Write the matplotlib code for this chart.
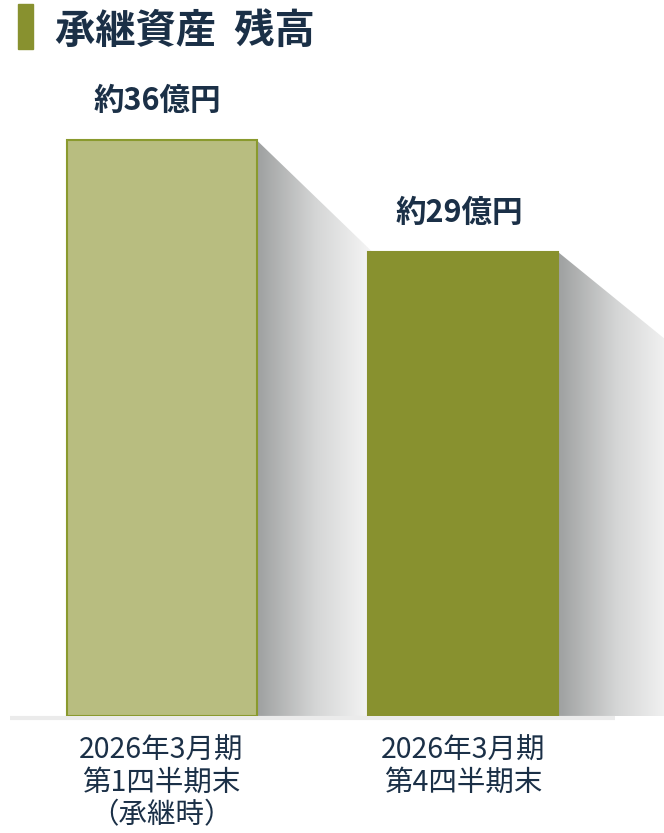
import matplotlib
matplotlib.use("Agg")
import numpy as np
import matplotlib.pyplot as plt
from matplotlib.patches import Rectangle, Polygon
from matplotlib.colors import LinearSegmentedColormap

plt.rcParams['font.family'] = ['Noto Sans CJK JP', 'DejaVu Sans']

# data
categories = ['2026年3月期\n第1四半期末\n（承継時）', '2026年3月期\n第4四半期末']
values = [36, 29]
value_labels = ['約36億円', '約29億円']
title = '承継資産  残高'

bar_colors = ['#b8bd80', '#88912f']
edge_colors = ['#8a9a2e', '#88912f']
shadow_drop = [7.0, 5.9]
navy = '#1b3047'

W, H = 664, 833
fig = plt.figure(figsize=(W / 100, H / 100), dpi=100)
ax = fig.add_axes([0, (H - 716) / H, 1, 716 / H])
unit = 301.5
ax.set_xlim(-161.5 / unit, (W - 161.5) / unit)
ax.set_ylim(0, 716 / 16)
ax.axis('off')

x = np.arange(len(values))
width = 190 / unit
shadow_w = 116 / unit

shade = LinearSegmentedColormap.from_list('shade', ['#9ea0a0', '#d4d5d5', '#f6f6f6'])
grad = np.linspace(0, 1, 256).reshape(1, -1)

for i, v in enumerate(values):
    x0 = x[i] + width / 2
    poly = Polygon([(x0, 0), (x0, v), (x0 + shadow_w, v - shadow_drop[i]), (x0 + shadow_w, 0)],
                   closed=True, facecolor='none', edgecolor='none')
    ax.add_patch(poly)
    im = ax.imshow(grad, cmap=shade, aspect='auto', extent=(x0, x0 + shadow_w, 0, v),
                   zorder=1, interpolation='bicubic')
    im.set_clip_path(poly)

bars = ax.bar(x, values, width=width, color=bar_colors, edgecolor=edge_colors,
              linewidth=1.5, zorder=3)

# baseline
ax.plot([(10 - 161.5) / unit, (615 - 161.5) / unit], [-0.12, -0.12], color='#ebebeb',
        lw=3, solid_capstyle='butt', clip_on=False, zorder=2)

for i, v in enumerate(values):
    ax.annotate(value_labels[i], (x[i], v), xytext=(-3, 28), textcoords='offset points',
                ha='center', va='center', fontsize=22, fontweight='bold', color=navy)

for i, c in enumerate(categories):
    ax.annotate(c, (x[i], 0), xytext=(0, -14), textcoords='offset points',
                ha='center', va='top', fontsize=20.5, color=navy,
                multialignment='center', linespacing=1.1, annotation_clip=False)

# title
fig.add_artist(Rectangle((18 / W, 1 - 49 / H), 15 / W, 45 / H, transform=fig.transFigure,
                         color='#88912f'))
fig.text(55 / W, 1 - 31 / H, title, fontsize=29, fontweight='bold', color=navy,
         ha='left', va='center')

fig.savefig('out.png', dpi=100)
